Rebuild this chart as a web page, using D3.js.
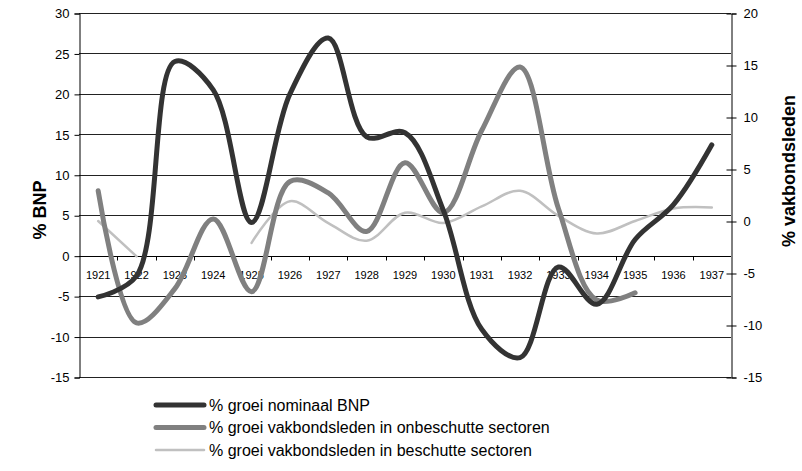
<!DOCTYPE html>
<html>
<head>
<meta charset="utf-8">
<script src="https://cdnjs.cloudflare.com/ajax/libs/d3/7.8.5/d3.min.js"></script>
<style>
  body { margin: 0; background: #fff; }
  svg { font-family: "Liberation Sans", Arial, sans-serif; }
  .axis text { fill: #000; }
</style>
</head>
<body>
<svg id="chart" width="802" height="471"></svg>
<script>
var years = ["1921","1922","1923","1924","1925","1926","1927","1928","1929","1930","1931","1932","1933","1934","1935","1936","1937"];
// left axis: % groei nominaal BNP
var bnp = [-5.1, -2.5, 24, 20.5, 4.1, 20, 26.9, 14.7, 15.2, 5.6, -9.1, -12.6, -1.4, -6, 2, 6.3, 13.7];
// right axis: % groei vakbondsleden onbeschutte sectoren
var onbeschut = [2.9, -9.8, -6.5, 0.2, -6.8, 3.8, 2.7, -1, 5.6, 0.8, 8.7, 14.8, 1.2, -7.6, -6.9, null, null];
// right axis: % groei vakbondsleden beschutte sectoren
var beschut = [0, -3.4, null, null, -2.1, 1.9, -0.2, -1.9, 0.8, -0.2, 1.4, 2.9, 0.5, -1.2, 0, 1.2, 1.3];
var leftTicks = [-15, -10, -5, 0, 5, 10, 15, 20, 25, 30];
var rightTicks = [-15, -10, -5, 0, 5, 10, 15, 20];
var legendLabels = ["% groei nominaal BNP", "% groei vakbondsleden in onbeschutte sectoren", "% groei vakbondsleden in beschutte sectoren"];

var MARGINS = {top: 13, right: 71, bottom: 94, left: 79},
    WIDTH = 802, HEIGHT = 471,
    svg = d3.select("#chart"),
    x0 = MARGINS.left, x1 = WIDTH - MARGINS.right,
    y0 = HEIGHT - MARGINS.bottom, y1 = MARGINS.top;

var xScale = d3.scaleBand().domain(years).range([x0, x1]);
var yLeft = d3.scaleLinear().domain([-15, 30]).range([y0, y1]);
var yRight = d3.scaleLinear().domain([-15, 20]).range([y0, y1]);

// horizontal gridlines
svg.append("g").selectAll("line")
  .data(leftTicks)
  .enter().append("line")
    .attr("x1", x0).attr("x2", x1)
    .attr("y1", function (d) { return Math.round(yLeft(d)) + 0.5; })
    .attr("y2", function (d) { return Math.round(yLeft(d)) + 0.5; })
    .style("stroke", "#222")
    .style("stroke-width", 1);

// left axis (plain hyphen minus like the original)
var leftAxis = d3.axisLeft(yLeft).tickValues(leftTicks).tickSize(5).tickPadding(5)
  .tickFormat(function (d) { return String(d); });
var gl = svg.append("g").attr("class", "axis")
  .attr("transform", "translate(" + (x0 + 0.5) + ",0.5)")
  .call(leftAxis);
gl.selectAll("text").style("font-size", "13px");

// right axis (ticks cross the line)
var rightAxis = d3.axisRight(yRight).tickValues(rightTicks).tickSize(5).tickPadding(7)
  .tickFormat(function (d) { return String(d); });
var gr = svg.append("g").attr("class", "axis")
  .attr("transform", "translate(" + (x1 + 0.5) + ",0.5)")
  .call(rightAxis);
gr.selectAll(".tick line").attr("x1", -5);
gr.selectAll("text").style("font-size", "13px");
svg.selectAll(".axis path.domain").style("stroke", "#000");

// category axis at zero of the left scale
var catY = Math.round(yLeft(0)) + 0.5;
svg.append("line")
  .attr("x1", x0).attr("x2", x1).attr("y1", catY).attr("y2", catY)
  .style("stroke", "#000");
svg.append("g").selectAll("line")
  .data(years.slice(1))
  .enter().append("line")
    .attr("x1", function (d) { return Math.round(xScale(d)) + 0.5; })
    .attr("x2", function (d) { return Math.round(xScale(d)) + 0.5; })
    .attr("y1", catY).attr("y2", catY + 4)
    .style("stroke", "#000");
svg.append("g").selectAll("text")
  .data(years)
  .enter().append("text")
    .attr("x", function (d) { return xScale(d) + xScale.bandwidth() / 2; })
    .attr("y", catY + 22)
    .attr("text-anchor", "middle")
    .style("font-size", "11px")
    .text(function (d) { return d; });

// series
function lineFor(scale) {
  return d3.line()
    .defined(function (d) { return d !== null; })
    .x(function (d, i) { return xScale(years[i]) + xScale.bandwidth() / 2; })
    .y(function (d) { return scale(d); })
    .curve(d3.curveCatmullRom.alpha(0.5));
}
var series = [
  {values: bnp, scale: yLeft, color: "#333333", width: 5},
  {values: onbeschut, scale: yRight, color: "#808080", width: 5},
  {values: beschut, scale: yRight, color: "#c0c0c0", width: 2.5}
];
series.slice().reverse().forEach(function (s) {
  svg.append("path")
    .datum(s.values)
    .attr("d", lineFor(s.scale))
    .style("fill", "none")
    .style("stroke", s.color)
    .style("stroke-width", s.width)
    .style("stroke-linecap", "round")
    .style("stroke-linejoin", "round");
});

// axis titles
svg.append("text")
  .attr("transform", "translate(46," + 210 + ") rotate(-90)")
  .attr("text-anchor", "middle")
  .style("font-size", "18px")
  .style("font-weight", "bold")
  .text("% BNP");
svg.append("text")
  .attr("transform", "translate(795," + 171 + ") rotate(-90)")
  .attr("text-anchor", "middle")
  .style("font-size", "18px")
  .style("font-weight", "bold")
  .text("% vakbondsleden");

// legend
series.forEach(function (s, i) {
  var ly = 405 + i * 22.5;
  svg.append("line")
    .attr("x1", 156).attr("x2", 204).attr("y1", ly).attr("y2", ly)
    .style("stroke", s.color)
    .style("stroke-width", s.width)
    .style("stroke-linecap", "round");
  svg.append("text")
    .attr("x", 209)
    .attr("y", ly + 5.5)
    .style("font-size", "16px")
    .text(legendLabels[i]);
});
</script>
</body>
</html>
